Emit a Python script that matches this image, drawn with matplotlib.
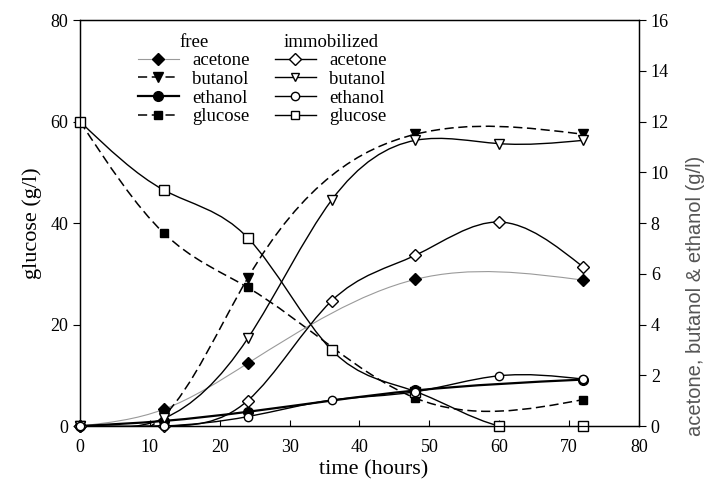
import numpy as np
import matplotlib
matplotlib.use("Agg")
import matplotlib.pyplot as plt
from matplotlib.path import Path
from matplotlib.patches import PathPatch
from matplotlib.lines import Line2D

plt.rcParams["font.family"] = ["Liberation Serif", "DejaVu Serif"]

# sampling times (hours)
t_free = [0, 12, 24, 48, 72]
t_immo = [0, 12, 24, 36, 48, 60, 72]

# free cells
free_acetone = [0, 0.66, 2.47, 5.78, 5.75]
free_butanol = [0, 0.4, 5.83, 11.5, 11.5]
free_ethanol = [0, 0.2, 0.56, 1.4, 1.83]
free_glucose = [60, 38.0, 27.3, 5.5, 5.2]

# immobilized cells
immo_acetone = [0, 0.0, 1.0, 4.93, 6.73, 8.04, 6.27]
immo_butanol = [0, 0.3, 3.45, 8.9, 11.26, 11.13, 11.26]
immo_ethanol = [0, 0.0, 0.37, 1.02, 1.35, 1.98, 1.85]
immo_glucose = [60, 46.5, 37.1, 15.0, 6.8, 0, 0]


def spline_path(x, y):
    # natural cubic spline drawn as bezier segments
    x = np.asarray(x, float)
    y = np.asarray(y, float)
    n = len(x)
    h = np.diff(x)
    A = np.zeros((n, n))
    b = np.zeros(n)
    A[0, 0] = A[-1, -1] = 1
    for i in range(1, n - 1):
        A[i, i - 1] = h[i - 1]
        A[i, i] = 2 * (h[i - 1] + h[i])
        A[i, i + 1] = h[i]
        b[i] = 6 * ((y[i + 1] - y[i]) / h[i] - (y[i] - y[i - 1]) / h[i - 1])
    M = np.linalg.solve(A, b)
    verts = [(x[0], y[0])]
    codes = [Path.MOVETO]
    for i in range(n - 1):
        s = (y[i + 1] - y[i]) / h[i]
        d0 = s - h[i] * (2 * M[i] + M[i + 1]) / 6
        d1 = s + h[i] * (M[i] + 2 * M[i + 1]) / 6
        verts += [(x[i] + h[i] / 3, y[i] + h[i] / 3 * d0),
                  (x[i + 1] - h[i] / 3, y[i + 1] - h[i] / 3 * d1),
                  (x[i + 1], y[i + 1])]
        codes += [Path.CURVE4] * 3
    return Path(verts, codes)


def draw(ax, x, y, ls, lw, color, marker, mfc, ms):
    ax.add_patch(PathPatch(spline_path(x, y), fill=False, ls=ls, lw=lw,
                           edgecolor=color, zorder=2))
    ax.plot(x, y, ls="none", marker=marker, mfc=mfc, mec="black",
            ms=ms, mew=1.0, zorder=3, clip_on=False)


fig = plt.figure(figsize=(7.12, 4.9), dpi=100)
ax = fig.add_axes([0.1124, 0.1306, 0.785, 0.8284])
ax2 = ax.twinx()

ax.set_xlim(0, 80)
ax.set_ylim(0, 80)
ax2.set_ylim(0, 16)
ax.set_xticks(range(0, 81, 10))
ax.set_yticks(range(0, 81, 20))
ax2.set_yticks(range(0, 17, 2))
ax.tick_params(axis="x", labelsize=13, direction="in", length=4, width=0.8, pad=9)
ax.tick_params(axis="y", labelsize=13, direction="out", length=5, width=0.8)
ax2.tick_params(axis="y", labelsize=13, direction="out", length=5, width=0.8)
for a in (ax, ax2):
    for sp in a.spines.values():
        sp.set_linewidth(0.9)

ax.set_xlabel("time (hours)", fontsize=16)
ax.xaxis.set_label_coords(0.525, -0.085)
ax.set_ylabel("glucose (g/l)", fontsize=16, labelpad=6)
ax2.set_ylabel("acetone, butanol & ethanol (g/l)", fontsize=14.5,
               family=["Liberation Sans", "DejaVu Sans"], color="#555555")
ax2.yaxis.set_label_coords(1.085, 0.32)

dash = (0, (6, 3))
# glucose on left axis
draw(ax, t_free, free_glucose, dash, 1.1, "black", "s", "black", 6)
draw(ax, t_immo, immo_glucose, "-", 1.0, "black", "s", "white", 6.5)
# products on right axis
draw(ax2, t_free, free_acetone, "-", 0.8, "#9a9a9a", "D", "black", 6)
draw(ax2, t_free, free_butanol, dash, 1.1, "black", "v", "black", 7)
draw(ax2, t_free, free_ethanol, "-", 1.6, "black", "o", "black", 7)
draw(ax2, t_immo, immo_acetone, "-", 1.0, "black", "D", "white", 6.5)
draw(ax2, t_immo, immo_butanol, "-", 1.0, "black", "v", "white", 7)
draw(ax2, t_immo, immo_ethanol, "-", 1.0, "black", "o", "white", 6)

names = ["acetone", "butanol", "ethanol", "glucose"]
free_h = [
    Line2D([], [], ls="-", lw=0.8, color="#9a9a9a", marker="D", mfc="black", mec="black", ms=6),
    Line2D([], [], ls=dash, lw=1.1, color="black", marker="v", mfc="black", mec="black", ms=7),
    Line2D([], [], ls="-", lw=1.6, color="black", marker="o", mfc="black", mec="black", ms=7),
    Line2D([], [], ls=dash, lw=1.1, color="black", marker="s", mfc="black", mec="black", ms=6),
]
immo_h = [
    Line2D([], [], ls="-", lw=1.0, color="black", marker=m, mfc="white", mec="black", ms=6)
    for m in ["D", "v", "o", "s"]
]
common = dict(loc="upper left", frameon=False, fontsize=13.5, title_fontsize=13.5,
              handlelength=2.2, labelspacing=0.08, handletextpad=0.7,
              borderaxespad=0)
leg1 = ax2.legend(free_h, names, title="free", bbox_to_anchor=(0.09, 0.985), **common)
ax2.add_artist(leg1)
ax2.legend(immo_h, names, title="immobilized", bbox_to_anchor=(0.335, 0.985), **common)

fig.savefig("out.png", dpi=100)
